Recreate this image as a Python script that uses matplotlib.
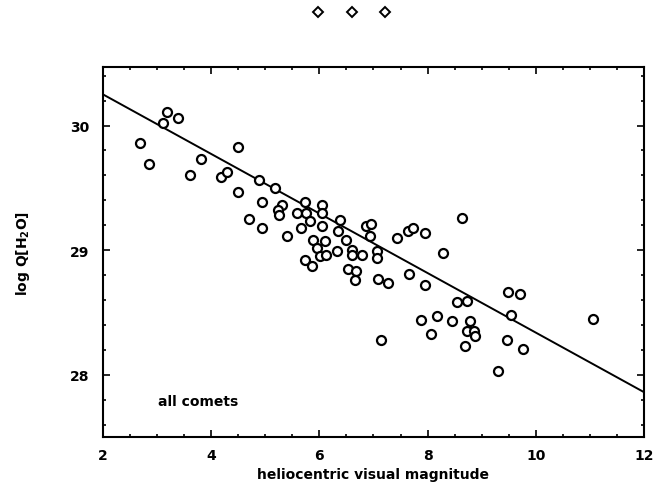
import matplotlib
matplotlib.use("Agg")
import matplotlib.pyplot as plt
from matplotlib.ticker import MultipleLocator
from matplotlib.lines import Line2D

# Data
magnitude = [3.18, 3.38, 3.11, 2.68, 2.85, 4.50, 3.81, 3.61, 4.19, 4.29,
             4.50, 4.89, 5.18, 4.93, 4.69, 4.94, 5.30, 5.24, 5.25, 5.41,
             5.73, 5.58, 5.76, 6.04, 6.04, 5.66, 5.83, 6.04, 6.39, 5.89,
             6.10, 6.33, 6.50, 6.34, 5.95, 6.01, 6.13, 5.73, 5.86, 6.60,
             6.60, 6.78, 6.53, 6.68, 6.66, 6.87, 6.95, 6.94, 7.06, 7.06,
             7.09, 7.27, 7.43, 7.63, 7.73, 7.95, 8.63, 8.29, 7.66, 7.96,
             8.55, 8.72, 7.87, 8.17, 8.45, 8.07, 8.78, 8.72, 8.86, 8.88,
             8.69, 7.13, 9.31, 9.49, 9.70, 9.54, 9.46, 9.76, 11.06]
logQ = [30.11, 30.06, 30.02, 29.86, 29.69, 29.83, 29.73, 29.60, 29.59, 29.63,
        29.47, 29.56, 29.50, 29.39, 29.25, 29.18, 29.36, 29.32, 29.28, 29.11,
        29.39, 29.30, 29.30, 29.36, 29.30, 29.18, 29.23, 29.19, 29.24, 29.08,
        29.07, 28.99, 29.08, 29.15, 29.02, 28.95, 28.96, 28.92, 28.87, 29.00,
        28.96, 28.96, 28.85, 28.83, 28.76, 29.19, 29.21, 29.11, 28.99, 28.94,
        28.77, 28.74, 29.10, 29.15, 29.18, 29.14, 29.26, 28.98, 28.81, 28.72,
        28.58, 28.59, 28.44, 28.47, 28.43, 28.33, 28.43, 28.35, 28.35, 28.31,
        28.23, 28.28, 28.03, 28.66, 28.65, 28.48, 28.28, 28.21, 28.45]

fit_x = [2, 12]
fit_y = [30.25, 27.86]

xticks = [2, 4, 6, 8, 10, 12]
yticks = [28, 29, 30]

plt.rcParams['font.family'] = ['DejaVu Sans']
plt.rcParams['font.weight'] = 'bold'

fig = plt.figure(figsize=(6.54, 4.85), dpi=100)
ax = fig.add_axes([0.1575, 0.0969, 0.8272, 0.7629])

ax.plot(fit_x, fit_y, color='black', lw=1.4, zorder=2)
ax.scatter(magnitude, logQ, s=42, facecolors='white', edgecolors='black',
           linewidths=1.6, zorder=3)

ax.set_xlim(2, 12)
ax.set_ylim(27.5, 30.47)
ax.set_xticks(xticks)
ax.set_yticks(yticks)
ax.xaxis.set_minor_locator(MultipleLocator(0.5))
ax.yaxis.set_minor_locator(MultipleLocator(0.2))
ax.tick_params(which='both', direction='in', top=True, right=True,
               width=1.2, labelsize=10)
ax.tick_params(which='major', length=5)
ax.tick_params(which='minor', length=2.5)
ax.tick_params(axis='x', pad=8)
ax.tick_params(axis='y', pad=10)
for lab in ax.get_xticklabels() + ax.get_yticklabels():
    lab.set_fontweight('bold')
for sp in ax.spines.values():
    sp.set_linewidth(1.5)

ax.set_xlabel('heliocentric visual magnitude', fontsize=10, fontweight='bold')
ax.set_ylabel(r'log Q[H$_\mathbf{2}$O]', fontsize=10, fontweight='bold')
ax.xaxis.set_label_coords(0.5, -0.082)
ax.yaxis.set_label_coords(-0.132, 0.5)

ax.text(3.02, 27.79, 'all comets', fontsize=10, fontweight='bold',
        ha='left', va='center')

# decorative diamonds at the top
fig.add_artist(Line2D([318/654, 352/654, 385/654], [1 - 13/485] * 3,
                      transform=fig.transFigure, linestyle='none',
                      marker='D', markersize=5.5, markerfacecolor='white',
                      markeredgecolor='black', markeredgewidth=1.4))

fig.savefig('out.png', dpi=100)
